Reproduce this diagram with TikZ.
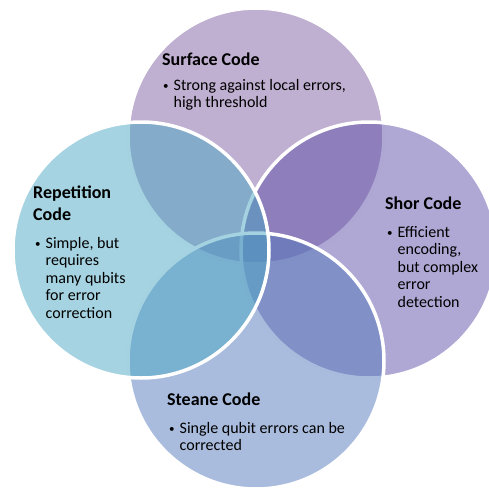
\documentclass[tikz,border=0pt]{standalone}
\usepackage{fontspec}
\setmainfont{Carlito}
\usepackage{tikz}

\definecolor{surfc}{RGB}{127,95,161}
\definecolor{shorc}{RGB}{95,81,169}
\definecolor{steac}{RGB}{83,121,187}
\definecolor{repc}{RGB}{75,167,195}

\tikzset{
  venn/.style={circle, draw=white, line width=3.5pt, fill opacity=0.5, minimum size=256pt, inner sep=0pt},
  title/.style={anchor=base west, inner sep=0pt, font=\fontsize{18}{22}\selectfont\bfseries},
  body/.style={anchor=base west, inner sep=0pt, font=\fontsize{16}{17.5}\selectfont},
}
\newcommand{\bitem}[1]{\begin{tabular}[t]{@{}l@{\hspace{5pt}}l@{}}\raisebox{1pt}{\fontsize{11}{11}\selectfont\textbullet} & #1\end{tabular}}
\newcommand{\ttl}[1]{\begin{tabular}[t]{@{}l@{}}#1\end{tabular}}

\begin{document}
\begin{tikzpicture}[x=1pt, y=-1pt]
\useasboundingbox (0,0) rectangle (489,491);
% Circles
\foreach \n/\x/\y/\c in {surf/256/136/surfc, shor/369/250/shorc, stea/256/361/steac, rep/141/250/repc} {
  \node[venn, fill=\c] (\n) at (\x,\y) {};
}
% Titles
\node[title] (surft) at (162,65) {Surface Code};
\node[title] (short) at (385,209) {Shor Code};
\node[title] (steat) at (167,405) {Steane Code};
\node[title] (rept) at (33,198) {\ttl{Repetition\\Code}};
% Bullets
\node[body] (surfb) at (163,90) {\bitem{Strong against local errors,\\ & high threshold}};
\node[body] (shorb) at (387,237) {\bitem{Efficient\\ & encoding,\\ & but complex\\ & error\\ & detection}};
\node[body] (steab) at (169,433) {\bitem{Single qubit errors can be\\ & corrected}};
\node[body] (repb) at (35,248) {\bitem{Simple, but\\ & requires\\ & many qubits\\ & for error\\ & correction}};
\end{tikzpicture}
\end{document}
